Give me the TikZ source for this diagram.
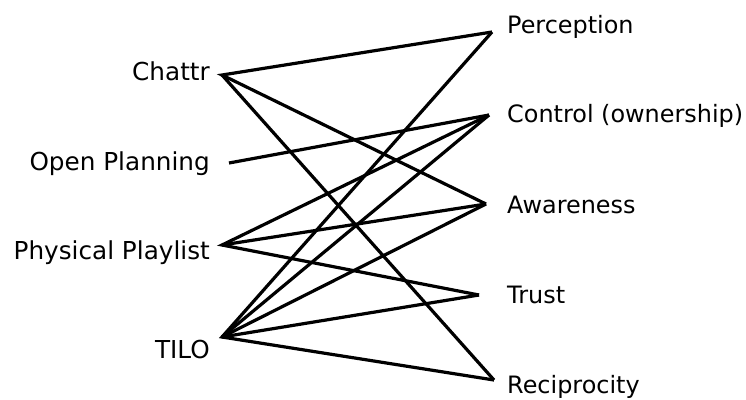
\documentclass[tikz,border=0pt]{standalone}
\usepackage{fontspec}
\setmainfont{DejaVu Sans}
\begin{document}
\begin{tikzpicture}[x=1bp,y=-1bp,
  lbl/.style={inner sep=0pt,font=\fontsize{24.8}{29}\selectfont},
  rlbl/.style={inner sep=0pt,font=\fontsize{24}{28}\selectfont},
  link/.style={line width=3.2bp,line join=miter,line cap=butt}]
\useasboundingbox (0,0) rectangle (746,399);
% left-hand items
\node[lbl,anchor=base east] (chattr) at (210,80) {Chattr};
\node[lbl,anchor=base east] (open) at (210,170) {Open Planning};
\node[lbl,anchor=base east] (phys) at (210,259) {Physical Playlist};
\node[lbl,anchor=base east] (tilo) at (210,358) {TILO};
% right-hand qualities
\node[rlbl,anchor=base west] (perc) at (507,33) {Perception};
\node[rlbl,anchor=base west] (ctrl) at (507,122) {Control (ownership)};
\node[rlbl,anchor=base west] (aware) at (507,213) {Awareness};
\node[rlbl,anchor=base west] (trust) at (507,303) {Trust};
\node[rlbl,anchor=base west] (recip) at (507,393) {Reciprocity};
% connector end points
\coordinate (cA) at (222,75);
\coordinate (oA) at (229,163);
\coordinate (pA) at (222,245);
\coordinate (tA) at (222,337);
\coordinate (percB) at (492,32);
\coordinate (ctrlB) at (489,115);
\coordinate (awareB) at (486,204);
\coordinate (trustB) at (479,295);
\coordinate (recipB) at (494,380);
% links
\draw[link] (percB) -- (cA) -- (awareB);
\draw[link] (cA) -- (recipB);
\draw[link] (oA) -- (ctrlB);
\draw[link] (ctrlB) -- (pA) -- (trustB);
\draw[link] (pA) -- (awareB);
\draw[link] (percB) -- (tA) -- (recipB);
\draw[link] (tA) -- (ctrlB);
\draw[link] (tA) -- (awareB);
\draw[link] (tA) -- (trustB);
\end{tikzpicture}
\end{document}
